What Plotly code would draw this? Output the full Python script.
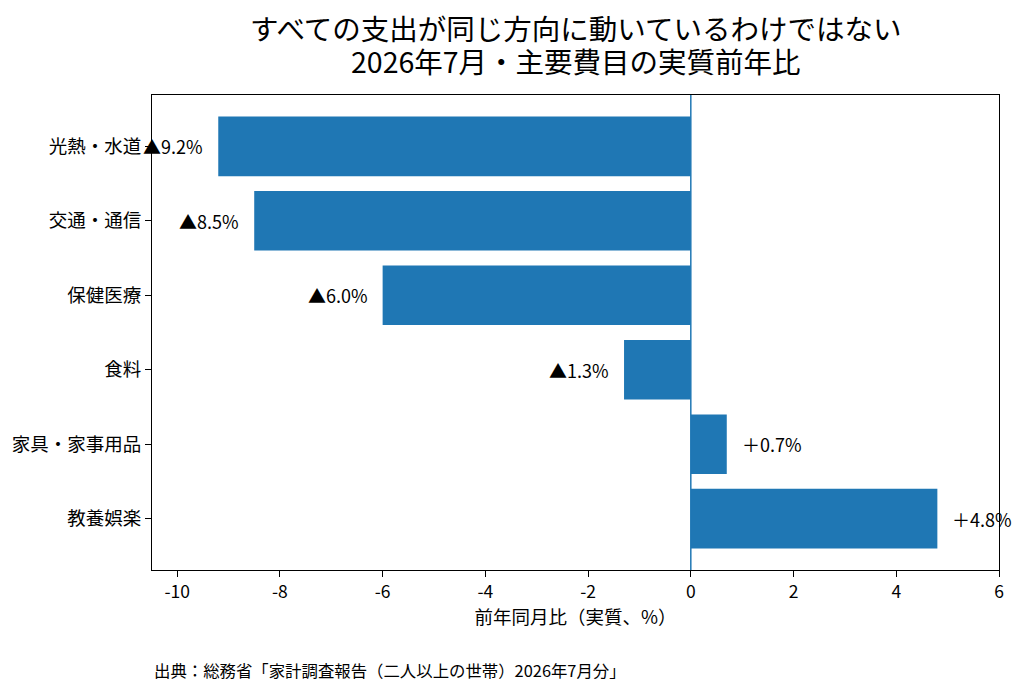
import plotly.graph_objects as go

# 主要費目と実質前年比(%)
categories = ["光熱・水道", "交通・通信", "保健医療", "食料", "家具・家事用品", "教養娯楽"]
values = [-9.2, -8.5, -6.0, -1.3, 0.7, 4.8]
x_ticks = [-10, -8, -6, -4, -2, 0, 2, 4, 6]

title_lines = ["すべての支出が同じ方向に動いているわけではない", "2026年7月・主要費目の実質前年比"]
source_text = "出典：総務省「家計調査報告（二人以上の世帯）2026年7月分」"

FONT = "Noto Sans CJK JP"
BLUE = "#1f77b4"

def fmt(v):
    # マイナスは▲、プラスは全角＋
    return ("▲" if v < 0 else "＋") + "{:.1f}%".format(abs(v))

fig = go.Figure(go.Bar(
    x=values,
    y=categories,
    orientation="h",
    width=0.8,
    marker=dict(color=BLUE, line=dict(width=0)),
    hoverinfo="skip",
))

# 値ラベル
for c, v in zip(categories, values):
    fig.add_annotation(
        x=v - 0.25 if v < 0 else v + 0.25,
        y=c,
        text=fmt(v),
        showarrow=False,
        xanchor="right" if v < 0 else "left",
        yanchor="middle",
        font=dict(family=FONT, size=18, color="black"),
    )

# ゼロ線
fig.add_shape(type="line", x0=0, x1=0, y0=0, y1=1, xref="x", yref="paper",
              line=dict(color=BLUE, width=1.5))

# タイトル(2行)
for t, yy in zip(title_lines, [1.143, 1.073]):
    fig.add_annotation(
        x=0.5, y=yy, xref="paper", yref="paper", text=t, showarrow=False,
        xanchor="center", yanchor="middle",
        font=dict(family=FONT, size=28.5, color="black"),
    )

fig.add_annotation(
    x=0, y=-0.21, xref="paper", yref="paper",
    text=source_text,
    showarrow=False, xanchor="left", yanchor="middle",
    font=dict(family=FONT, size=16.4, color="black"),
)

fig.update_layout(
    width=1008, height=678,
    margin=dict(l=144, r=17, t=87, b=116),
    paper_bgcolor="white", plot_bgcolor="white",
    font=dict(family=FONT, size=18, color="black"),
    showlegend=False,
    xaxis=dict(
        range=[-10.49, 6], tickvals=x_ticks, ticktext=[str(t) for t in x_ticks],
        showgrid=False, zeroline=False, automargin=False,
        showline=True, linecolor="black", linewidth=1.2, mirror=True,
        ticks="outside", ticklen=6, tickcolor="black",
        tickfont=dict(family=FONT, size=17.5),
        title=dict(text="前年同月比（実質、%）", font=dict(family=FONT, size=18.5), standoff=5),
    ),
    yaxis=dict(
        type="category", range=[5.69, -0.69],
        showgrid=False, zeroline=False, automargin=False,
        showline=True, linecolor="black", linewidth=1.2, mirror=True,
        ticks="outside", ticklen=6, tickcolor="black",
        tickfont=dict(family=FONT, size=18.5),
    ),
)

fig.write_html("out.html")
